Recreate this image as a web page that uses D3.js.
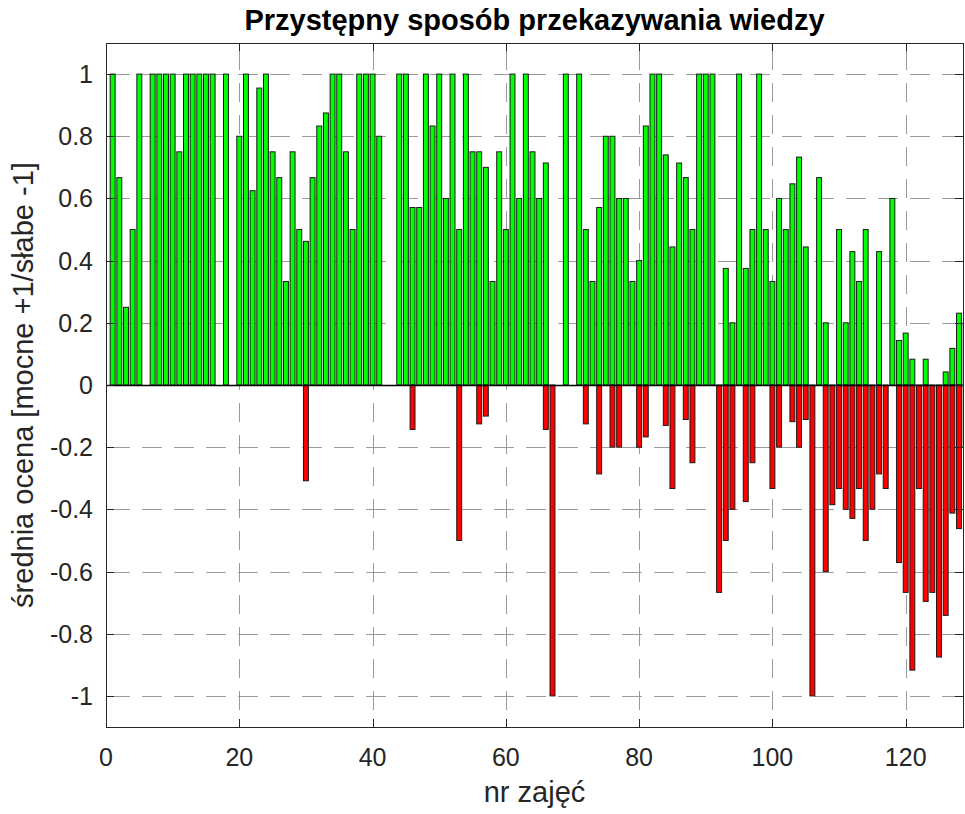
<!DOCTYPE html>
<html>
<head>
<meta charset="utf-8">
<script src="https://cdn.jsdelivr.net/npm/d3@7"></script>
<style>
  body { margin: 0; background: #fff; }
  svg { display: block; font-family: "Liberation Sans", Arial, sans-serif; }
</style>
</head>
<body>
<svg id="chart"></svg>
<script>
// average rating per lesson: positive (mocne) and negative (słabe) part
const lessons = d3.range(1, 130)
const positive = [
  1, 0.667, 0.25, 0.5, 1, 0, 1, 1, 1, 1,
  0.75, 1, 1, 1, 1, 1, 0, 1, 0, 0.8,
  1, 0.625, 0.955, 1, 0.75, 0.667, 0.333, 0.75, 0.5, 0.462,
  0.667, 0.833, 0.875, 1, 1, 0.75, 0.5, 1, 1, 1,
  0.8, 0, 0, 1, 1, 0.571, 0.571, 1, 0.833, 1,
  0.6, 1, 0.5, 1, 0.75, 0.75, 0.7, 0.333, 0.75, 0.5,
  1, 0.6, 1, 0.75, 0.6, 0.714, 0, 0, 1, 0,
  1, 0.5, 0.333, 0.571, 0.8, 0.8, 0.6, 0.6, 0.333, 0.4,
  0.833, 1, 1, 0.74, 0.444, 0.714, 0.667, 0.5, 1, 1,
  1, 0, 0.375, 0.2, 1, 0.375, 0.5, 1, 0.5, 0.333,
  0.6, 0.5, 0.647, 0.733, 0.444, 0, 0.667, 0.2, 0, 0.5,
  0.2, 0.429, 0.333, 0.5, 0, 0.429, 0, 0.6, 0.143, 0.167,
  0.083, 0, 0.083, 0, 0, 0.042, 0.118, 0.231, 0.2
]
const negative = [
  0, 0, 0, 0, 0, 0, 0, 0, 0, 0,
  0, 0, 0, 0, 0, 0, 0, 0, 0, 0,
  0, 0, 0, 0, 0, 0, 0, 0, 0, -0.308,
  0, 0, 0, 0, 0, 0, 0, 0, 0, 0,
  0, 0, 0, 0, 0, -0.143, 0, 0, 0, 0,
  0, 0, -0.5, 0, 0, -0.125, -0.1, 0, 0, 0,
  0, 0, 0, 0, 0, -0.143, -1, 0, 0, 0,
  0, -0.125, 0, -0.286, 0, -0.2, -0.2, 0, 0, -0.2,
  -0.167, 0, 0, -0.13, -0.333, 0, -0.111, -0.25, 0, 0,
  0, -0.667, -0.5, -0.4, 0, -0.375, -0.25, 0, 0, -0.333,
  -0.2, 0, -0.118, -0.2, -0.111, -1, 0, -0.6, -0.385, -0.333,
  -0.4, -0.429, -0.333, -0.5, -0.4, -0.286, -0.333, 0, -0.571, -0.667,
  -0.917, -0.333, -0.696, -0.667, -0.875, -0.741, -0.412, -0.462, -0.2
]
const xTicks = [0, 20, 40, 60, 80, 100, 120]
const yTicks = [-1, -0.8, -0.6, -0.4, -0.2, 0, 0.2, 0.4, 0.6, 0.8, 1]

const width = 965
const height = 814
const plot = { left: 106, top: 43, right: 963, bottom: 727 }

const svg = d3.select('#chart')
    .attr('width', width)
    .attr('height', height)

const x = d3.scaleLinear().domain([0, 128.6]).range([plot.left, plot.right])
const y = d3.scaleLinear().domain([-1.1, 1.1]).range([plot.bottom, plot.top])
const barW = 0.74

svg.append('defs').append('clipPath')
    .attr('id', 'clip')
  .append('rect')
    .attr('x', plot.left)
    .attr('y', plot.top)
    .attr('width', plot.right - plot.left)
    .attr('height', plot.bottom - plot.top)

// grid (dashed, behind the bars)
const grid = svg.append('g')
    .attr('stroke', '#9a9a9a')
    .attr('stroke-width', 1)
grid.selectAll('.gy')
  .data(yTicks.filter(d => d !== 0))
  .join('line')
    .attr('x1', plot.left)
    .attr('x2', plot.right)
    .attr('y1', d => Math.round(y(d)) + 0.5)
    .attr('y2', d => Math.round(y(d)) + 0.5)
    .attr('stroke-dasharray', '20,12')
    .attr('stroke-dashoffset', -4)
grid.selectAll('.gx')
  .data(xTicks.filter(d => d !== 0))
  .join('line')
    .attr('x1', d => Math.round(x(d)) + 0.5)
    .attr('x2', d => Math.round(x(d)) + 0.5)
    .attr('y1', plot.top)
    .attr('y2', plot.bottom)
    .attr('stroke-dasharray', '19,13')
    .attr('stroke-dashoffset', -8)

const bars = svg.append('g').attr('clip-path', 'url(#clip)')

// green positive bars
bars.append('g')
  .selectAll('rect')
  .data(lessons.map((n, i) => ({ n, v: positive[i] })).filter(d => d.v > 0))
  .join('rect')
    .attr('x', d => x(d.n - barW / 2))
    .attr('width', d => x(barW) - x(0))
    .attr('y', d => y(d.v))
    .attr('height', d => y(0) - y(d.v))
    .attr('fill', '#00ff00')
    .attr('stroke', '#1a1a1a')
    .attr('stroke-width', 1)

// red negative bars
bars.append('g')
  .selectAll('rect')
  .data(lessons.map((n, i) => ({ n, v: negative[i] })).filter(d => d.v < 0))
  .join('rect')
    .attr('x', d => x(d.n - barW / 2))
    .attr('width', d => x(barW) - x(0))
    .attr('y', y(0))
    .attr('height', d => y(d.v) - y(0))
    .attr('fill', '#ff0000')
    .attr('stroke', '#1a1a1a')
    .attr('stroke-width', 1)

// baseline at 0
svg.append('line')
    .attr('x1', plot.left)
    .attr('x2', plot.right)
    .attr('y1', Math.round(y(0)) + 0.5)
    .attr('y2', Math.round(y(0)) + 0.5)
    .attr('stroke', '#000')
    .attr('stroke-width', 1.3)

// box + inward ticks
const axisColor = '#262626'
svg.append('rect')
    .attr('x', plot.left + 0.5)
    .attr('y', plot.top + 0.5)
    .attr('width', plot.right - plot.left)
    .attr('height', plot.bottom - plot.top)
    .attr('fill', 'none')
    .attr('stroke', axisColor)
    .attr('stroke-width', 1)

const tickLen = 8
const ticks = svg.append('g').attr('stroke', axisColor).attr('stroke-width', 1)
xTicks.forEach(t => {
  const px = Math.round(x(t)) + 0.5
  ticks.append('line').attr('x1', px).attr('x2', px).attr('y1', plot.bottom).attr('y2', plot.bottom - tickLen)
  ticks.append('line').attr('x1', px).attr('x2', px).attr('y1', plot.top).attr('y2', plot.top + tickLen)
})
yTicks.forEach(t => {
  const py = Math.round(y(t)) + 0.5
  ticks.append('line').attr('x1', plot.left).attr('x2', plot.left + tickLen).attr('y1', py).attr('y2', py)
  ticks.append('line').attr('x1', plot.right).attr('x2', plot.right - tickLen).attr('y1', py).attr('y2', py)
})

// tick labels
svg.append('g')
    .attr('fill', axisColor)
    .style('font-size', '25px')
    .attr('text-anchor', 'middle')
  .selectAll('text')
  .data(xTicks)
  .join('text')
    .attr('x', d => x(d))
    .attr('y', 766)
    .text(d => d)

svg.append('g')
    .attr('fill', axisColor)
    .style('font-size', '25px')
    .attr('text-anchor', 'end')
  .selectAll('text')
  .data(yTicks)
  .join('text')
    .attr('x', 93)
    .attr('y', d => y(d) + 9)
    .text(d => d)

// axis labels and title
svg.append('text')
    .attr('x', (plot.left + plot.right) / 2)
    .attr('y', 802)
    .attr('text-anchor', 'middle')
    .attr('fill', axisColor)
    .style('font-size', '29px')
    .text('nr zajęć')

svg.append('text')
    .attr('transform', `translate(33,${(plot.top + plot.bottom) / 2}) rotate(-90)`)
    .attr('text-anchor', 'middle')
    .attr('fill', axisColor)
    .style('font-size', '29px')
    .text('średnia ocena [mocne +1/słabe -1]')

svg.append('text')
    .attr('x', (plot.left + plot.right) / 2)
    .attr('y', 30)
    .attr('text-anchor', 'middle')
    .attr('fill', '#000')
    .style('font-size', '29px')
    .style('font-weight', 'bold')
    .text('Przystępny sposób przekazywania wiedzy')
</script>
</body>
</html>
